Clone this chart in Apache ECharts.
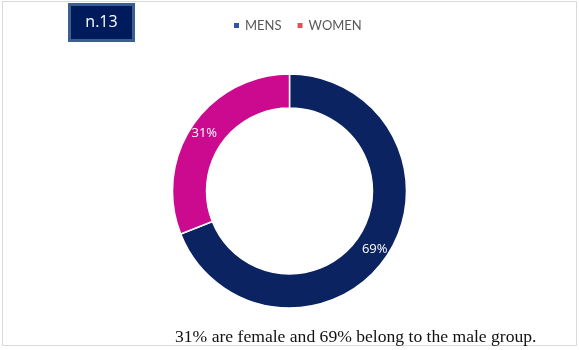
<!DOCTYPE html>
<html>
<head>
<meta charset="utf-8">
<script src="https://cdn.jsdelivr.net/npm/echarts@6/dist/echarts.min.js"></script>
<style>html,body{margin:0;padding:0;background:#fff;}#c{width:579px;height:350px;}</style>
</head>
<body>
<div id="c"></div>
<script>
const categories = ['MENS', 'WOMEN'];
const values = [69, 31];
const sliceColors = ['#0b2461', '#cc0a90'];
const legendColors = ['#2f55a5', '#e05252'];
const boxLabel = 'n.13';
const caption = '31% are female and 69% belong to the male group.';

const chart = echarts.init(document.getElementById('c'), null, {renderer: 'canvas'});
chart.setOption({
  animation: false,
  backgroundColor: '#ffffff',
  legend: {
    left: 227, top: 14,
    icon: 'rect', itemWidth: 7, itemHeight: 7, itemGap: 14,
    textStyle: {fontFamily: 'Lato', fontSize: 13, color: '#595959'},
    data: categories.map((c, i) => ({name: c, itemStyle: {color: legendColors[i]}}))
  },
  graphic: [
    {type: 'rect', silent: true, z: 0, shape: {x: 2.5, y: 1.5, width: 574, height: 344},
     style: {fill: 'none', stroke: '#d9d9d9', lineWidth: 1}},
    {type: 'rect', z: 10, shape: {x: 69.5, y: 4.5, width: 64, height: 36},
     style: {fill: '#001b5c', stroke: '#3b5f8e', lineWidth: 3}},
    {type: 'text', z: 11, x: 101.5, y: 22.5,
     style: {text: boxLabel, fill: '#ffffff', font: '16px "Open Sans"', align: 'center', verticalAlign: 'middle'}},
    {type: 'text', z: 11, x: 175, y: 337,
     style: {text: caption, fill: '#111111', font: '17.6px "Liberation Serif"', align: 'left', verticalAlign: 'middle'}}
  ],
  series: [{
    type: 'pie',
    center: [289.5, 191],
    radius: [83, 117],
    startAngle: 90,
    clockwise: true,
    avoidLabelOverlap: false,
    itemStyle: {borderColor: '#ffffff', borderWidth: 1.5},
    label: {
      show: true, position: 'inside', formatter: '{c}%',
      color: '#ffffff', fontSize: 13, fontFamily: 'Open Sans'
    },
    labelLine: {show: false},
    emphasis: {disabled: true},
    data: categories.map((c, i) => ({name: c, value: values[i], itemStyle: {color: sliceColors[i]}}))
  }]
});
</script>
</body>
</html>
